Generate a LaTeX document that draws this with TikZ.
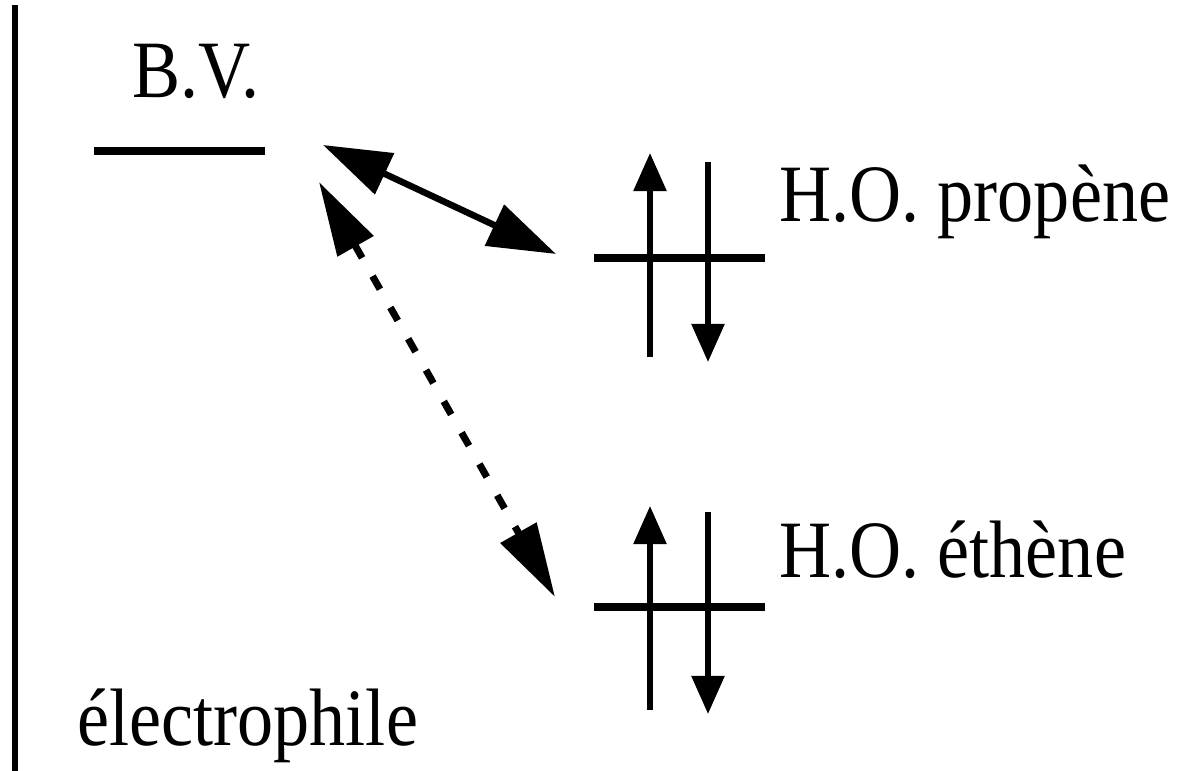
\documentclass[tikz,border=0pt]{standalone}
\usepackage{fontspec}
\setmainfont{Liberation Serif}
\usetikzlibrary{arrows.meta}
\newcommand{\tallt}[1]{\scalebox{1}[1.13]{#1}}
\begin{document}
\begin{tikzpicture}[x=0.01cm,y=-0.01cm,
  lbl/.style={inner sep=0pt,font=\fontsize{20.5}{24}\selectfont},
  levelline/.style={line width=0.085cm},
  axisline/.style={line width=0.05cm},
  spin/.style={line width=0.055cm,-{Triangle[length=0.38cm,width=0.32cm]}},
  inter/.style={line width=0.065cm,{Triangle[length=0.68cm,width=0.44cm]}-{Triangle[length=0.68cm,width=0.44cm]}},
  interd/.style={line width=0.07cm,dash pattern=on 0.15cm off 0.21cm,{Triangle[length=0.74cm,width=0.40cm]}-{Triangle[length=0.74cm,width=0.40cm]}},
]
\useasboundingbox (0,0) rectangle (1179,771);
% energy axis
\coordinate (axtop) at (15,5);
\coordinate (axbot) at (15,771);
\draw[axisline] (axtop) -- (axbot);
% labels
\node[lbl,anchor=base] (bv) at (196,98) {\tallt{B.V.}};
\node[lbl,anchor=base west] (hop) at (779,222) {\tallt{H.O. propène}};
\node[lbl,anchor=base west] (hoe) at (779,578) {\tallt{H.O. éthène}};
\node[lbl,anchor=base west] (el) at (77,746) {\tallt{électrophile}};
% levels
\coordinate (bvL) at (94,151);
\coordinate (bvR) at (265,151);
\draw[levelline] (bvL) -- (bvR);
\coordinate (pL) at (594,258);
\coordinate (pR) at (765,258);
\draw[levelline] (pL) -- (pR);
\coordinate (eL) at (594,607);
\coordinate (eR) at (765,607);
\draw[levelline] (eL) -- (eR);
% spins propene
\coordinate (pu1) at (650,357);
\coordinate (pu2) at (650,153);
\coordinate (pd1) at (708,162);
\coordinate (pd2) at (708,362);
\draw[spin] (pu1) -- (pu2);
\draw[spin] (pd1) -- (pd2);
% spins ethene
\coordinate (eu1) at (650,710);
\coordinate (eu2) at (650,506);
\coordinate (ed1) at (708,512);
\coordinate (ed2) at (708,714);
\draw[spin] (eu1) -- (eu2);
\draw[spin] (ed1) -- (ed2);
% interactions
\coordinate (a1) at (323,145);
\coordinate (a2) at (556,254);
\draw[inter] (a1) -- (a2);
\coordinate (b1) at (319,182);
\coordinate (b2) at (555,597);
\draw[interd] (b1) -- (b2);
\end{tikzpicture}
\end{document}
